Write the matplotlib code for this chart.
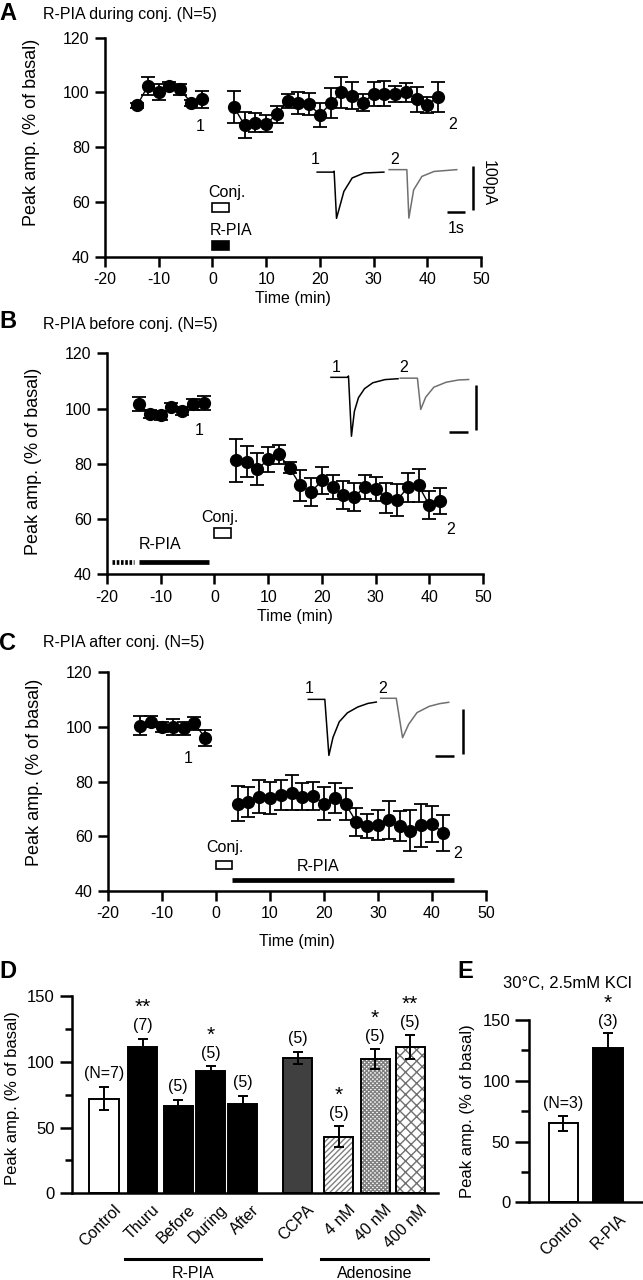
import numpy as np
import matplotlib
matplotlib.use('Agg')
import matplotlib.pyplot as plt
from matplotlib.patches import Rectangle
from matplotlib.transforms import ScaledTranslation, blended_transform_factory

plt.rcParams['font.family'] = ['Liberation Sans', 'DejaVu Sans']
plt.rcParams['axes.unicode_minus'] = False

# ---------------- data ----------------
# time course (min) and peak amplitude (% of basal, mean and s.e.m.)
t_pre = [-14, -12, -10, -8, -6, -4, -2]
t_post = [4, 6, 8, 10, 12, 14, 16, 18, 20, 22, 24, 26, 28, 30, 32, 34, 36, 38, 40, 42]

a_pre = [95.3, 102.5, 100.2, 102.5, 101.2, 96.2, 97.5]
a_pre_err = [1.0, 3.3, 3.0, 1.5, 2.0, 1.0, 3.0]
a_post = [94.7, 88.0, 89.0, 88.6, 92.0, 96.9, 96.0, 95.7, 91.8, 96.0,
          100.0, 98.8, 96.3, 99.4, 99.6, 99.4, 100.0, 97.5, 95.5, 98.4]
a_post_err = [6.0, 4.7, 3.5, 3.0, 3.0, 2.5, 4.0, 4.0, 4.3, 5.5,
              5.5, 5.0, 3.0, 4.5, 4.5, 3.0, 3.5, 4.5, 3.0, 5.5]

b_pre = [101.5, 98.0, 97.5, 100.5, 99.0, 101.5, 102.0]
b_pre_err = [2.5, 1.5, 1.5, 1.5, 1.5, 2.0, 2.5]
b_post = [81.2, 80.7, 78.0, 81.6, 83.4, 78.5, 72.2, 69.7, 74.0, 71.6,
          68.6, 68.0, 71.6, 70.9, 67.6, 66.8, 71.5, 72.2, 65.0, 66.4]
b_post_err = [7.9, 5.6, 5.8, 4.5, 3.4, 2.0, 5.5, 5.0, 4.8, 4.5,
              5.0, 5.0, 4.5, 4.5, 5.5, 5.8, 5.3, 6.0, 5.0, 4.7]

c_pre = [100.5, 102.0, 100.0, 100.0, 99.5, 101.3, 96.0]
c_pre_err = [3.5, 2.0, 2.0, 3.0, 2.5, 2.5, 3.0]
c_post = [72.0, 72.6, 74.5, 74.0, 75.0, 76.0, 74.5, 74.8, 72.0, 74.0,
          71.8, 65.2, 63.8, 64.3, 66.0, 63.8, 62.0, 64.0, 64.6, 61.3]
c_post_err = [6.5, 5.5, 6.0, 6.0, 5.5, 6.5, 5.0, 5.0, 6.0, 5.5,
              6.0, 5.0, 4.5, 5.5, 7.0, 5.5, 7.5, 8.0, 6.5, 6.5]

# protocol windows (min)
conj_win = (0, 3)
rpia_a = (0, 3)
rpia_b = (-14, -1)
rpia_b_pre = (-19, -15)
rpia_c = (3, 44)

# example EPSCs: time (s) and current (pA) relative to trace start / baseline
a1_t = [0, 0.85, 0.92, 1.05, 1.45, 1.9, 2.55, 3.62]
a1_i = [0, 0, 2, -103, -43, -13, -2, 0]
a2_t = [0, 0.96, 1.07, 1.33, 1.78, 2.44, 3.67]
a2_i = [0, 0, -108, -45, -15, -4, 0]
b1_t = [0, 0.9, 0.95, 1.11, 1.27, 1.49, 1.82, 2.27, 2.93, 3.64]
b1_i = [0, 0, 3, -130, -75, -45, -25, -12, -5, -3]
b2_t = [0, 0.93, 1.11, 1.38, 1.82, 2.49, 3.16, 3.71]
b2_i = [0, 0, -69, -42, -20, -9, -4, -3]
c1_t = [0, 0.89, 1.11, 1.33, 1.67, 2.11, 2.67, 3.22, 3.67]
c1_i = [0, 0, -125, -85, -50, -30, -17, -9, -6]
c2_t = [0, 0.84, 1.18, 1.51, 1.96, 2.62, 3.18, 3.67]
c2_i = [0, 0, -88, -58, -32, -18, -12, -9]

# summary bars
d_labels = ['Control', 'Thuru', 'Before', 'During', 'After', 'CCPA', '4 nM', '40 nM', '400 nM']
d_vals = [72, 111, 66, 93, 68, 103, 43, 102, 111]
d_err = [9, 6.5, 5, 3.5, 6, 4.5, 8, 7.5, 9]
d_n = ['(N=7)', '(7)', '(5)', '(5)', '(5)', '(5)', '(5)', '(5)', '(5)']
d_sig = ['', '**', '', '*', '', '', '*', '*', '**']

e_labels = ['Control', 'R-PIA']
e_vals = [65, 127]
e_err = [6, 12]
e_n = ['(N=3)', '(3)']
e_sig = ['', '*']

# ---------------- plotting ----------------
W, H = 643, 1280
fig = plt.figure(figsize=(W / 100, H / 100), dpi=100)

def px_axes(l, t, r, b):
    return fig.add_axes([l / W, 1 - b / H, (r - l) / W, (b - t) / H])

def ftext(x, y, s, **kw):
    fig.text(x / W, 1 - y / H, s, **kw)

SEC = 3.43   # min-axis units per second of trace
PA = 0.164   # %-axis units per pA

def time_panel(ax, pre, pre_e, post, post_e, ylab_y, xlab_y):
    for t, y, e in ((t_pre, pre, pre_e), (t_post, post, post_e)):
        ax.errorbar(t, y, yerr=e, fmt='-o', color='black', lw=1.0, ms=8.5,
                    elinewidth=1.3, capsize=4.7, capthick=1.3, zorder=3)
    ax.set_xlim(-20, 50)
    ax.set_ylim(40, 120)
    ax.set_xticks(range(-20, 51, 10))
    ax.set_yticks(range(40, 121, 20))
    ax.spines[['top', 'right']].set_visible(False)
    ax.spines[['left', 'bottom']].set_linewidth(1.8)
    ax.tick_params(length=7.5, width=1.8, labelsize=11.5, pad=3.5)
    ax.set_ylabel('Peak amp. (% of basal)', fontsize=13)
    ax.yaxis.set_label_coords(-0.172, ylab_y)
    ax.set_xlabel('Time (min)', fontsize=11.5)
    ax.xaxis.set_label_coords(0.5, xlab_y)
    ax.xaxis.label.set_va('center')

def draw_trace(ax, x0, y0, t, i, color):
    ax.plot(x0 + np.asarray(t) * SEC, y0 + np.asarray(i) * PA, color=color, lw=1.1)

def scale_bars(ax, xv, ytop, xh, yh):
    ax.plot([xv, xv], [ytop - 100 * PA, ytop], color='black', lw=1.8, solid_capstyle='butt')
    ax.plot([xh, xh + SEC], [yh, yh], color='black', lw=1.8, solid_capstyle='butt')

def conj_box(ax, y0, h):
    ax.add_patch(Rectangle((conj_win[0], y0), conj_win[1] - conj_win[0], h,
                           facecolor='white', edgecolor='black', lw=1.2, clip_on=False))

fs = 11.5

# ----- A -----
ax = px_axes(105, 37.7, 481, 256.7)
time_panel(ax, a_pre, a_pre_err, a_post, a_post_err, 0.569, -0.189)
ax.text(-2.2, 87.6, '1', ha='center', va='center', fontsize=fs)
ax.text(44.7, 88.3, '2', ha='center', va='center', fontsize=fs)
draw_trace(ax, 19.5, 70.9, a1_t, a1_i, 'black')
draw_trace(ax, 32.9, 71.8, a2_t, a2_i, '#707070')
ax.text(19.1, 75.5, '1', ha='center', va='center', fontsize=fs)
ax.text(34.0, 75.5, '2', ha='center', va='center', fontsize=fs)
scale_bars(ax, 48.5, 73.3, 43.6, 56.2)
ax.text(45.4, 50.3, '1s', ha='center', va='center', fontsize=fs)
ax.text(51.3, 66.9, '100pA', ha='center', va='center', fontsize=fs, rotation=270)
conj_box(ax, 56.2, 3.4)
ax.text(2.7, 63.6, 'Conj.', ha='center', va='center', fontsize=fs)
ax.add_patch(Rectangle((rpia_a[0], 42.3), rpia_a[1] - rpia_a[0], 3.4,
                       facecolor='black', edgecolor='black', lw=1.2))
ax.text(3.4, 49.4, 'R-PIA', ha='center', va='center', fontsize=fs)
ftext(8, 13, 'A', fontsize=17, fontweight='bold', ha='center', va='center')
ftext(43, 15, 'R-PIA during conj. (N=5)', fontsize=11.5, ha='left', va='center')

# ----- B -----
ax = px_axes(107, 353.3, 483, 574.3)
time_panel(ax, b_pre, b_pre_err, b_post, b_post_err, 0.513, -0.193)
ax.text(-2.8, 91.9, '1', ha='center', va='center', fontsize=fs)
ax.text(43.9, 56.1, '2', ha='center', va='center', fontsize=fs)
draw_trace(ax, 21.7, 111.3, b1_t, b1_i, 'black')
draw_trace(ax, 34.6, 111.0, b2_t, b2_i, '#707070')
ax.text(22.6, 114.9, '1', ha='center', va='center', fontsize=fs)
ax.text(35.2, 114.9, '2', ha='center', va='center', fontsize=fs)
scale_bars(ax, 48.7, 108.5, 43.7, 91.6)
conj_box(ax, 53.1, 3.6)
ax.text(1.0, 60.4, 'Conj.', ha='center', va='center', fontsize=fs)
ax.plot(rpia_b, [44.6, 44.6], color='black', lw=3.4, solid_capstyle='butt')
ax.plot(rpia_b_pre, [44.6, 44.6], color='black', lw=3.4, dashes=(0.55, 0.35))
ax.text(-10.2, 50.7, 'R-PIA', ha='center', va='center', fontsize=fs)
ftext(8, 322, 'B', fontsize=17, fontweight='bold', ha='center', va='center')
ftext(43, 325, 'R-PIA before conj. (N=5)', fontsize=11.5, ha='left', va='center')

# ----- C -----
ax = px_axes(108, 672.3, 486, 891)
time_panel(ax, c_pre, c_pre_err, c_post, c_post_err, 0.544, -0.233)
ax.text(-5.1, 88.5, '1', ha='center', va='center', fontsize=fs)
ax.text(44.8, 53.8, '2', ha='center', va='center', fontsize=fs)
draw_trace(ax, 17.1, 110.1, c1_t, c1_i, 'black')
draw_trace(ax, 30.5, 110.5, c2_t, c2_i, '#707070')
ax.text(17.3, 114.1, '1', ha='center', va='center', fontsize=fs)
ax.text(30.9, 114.1, '2', ha='center', va='center', fontsize=fs)
scale_bars(ax, 45.7, 106.6, 40.6, 89.4)
conj_box(ax, 48.0, 3.1)
ax.text(1.7, 56.0, 'Conj.', ha='center', va='center', fontsize=fs)
ax.plot(rpia_c, [44.0, 44.0], color='black', lw=3.4, solid_capstyle='butt')
ax.text(18.9, 49.1, 'R-PIA', ha='center', va='center', fontsize=fs)
ftext(8, 643, 'C', fontsize=17, fontweight='bold', ha='center', va='center')
ftext(43, 643, 'R-PIA after conj. (N=5)', fontsize=11.5, ha='left', va='center')

# ----- bar panel helper -----
def bar_panel(ax, pos, vals, errs, ns, sigs, labels, styles, width, fsz,
              major_len, minor_len, ylab_x, ylab_y, ylab_fs, lab_dx):
    for p, v, st in zip(pos, vals, styles):
        fc, hatch, hc = st
        if hatch:
            ax.bar(p, v, width=width, color=fc, edgecolor=hc, lw=0, hatch=hatch, zorder=2)
            ax.bar(p, v, width=width, color='none', edgecolor='black', lw=1.4, zorder=3)
        else:
            ax.bar(p, v, width=width, color=fc, edgecolor='black', lw=1.4, zorder=2)
    ax.errorbar(pos, vals, yerr=errs, fmt='none', ecolor='black', elinewidth=1.4,
                capsize=3.8, capthick=1.4, zorder=4)
    for p, v, e, n, s in zip(pos, vals, errs, ns, sigs):
        ax.text(p, v + e + 10, n, ha='center', va='center', fontsize=fsz)
        if s:
            ax.text(p, v + e + 16.5, s, ha='center', va='bottom', fontsize=15)
    ax.set_ylim(0, 150)
    ax.set_yticks([0, 50, 100, 150])
    ax.set_yticks([25, 75, 125], minor=True)
    ax.set_xticks(pos, labels, rotation=45, ha='right', rotation_mode='anchor', fontsize=fsz)
    ax.spines[['top', 'right']].set_visible(False)
    ax.spines[['left', 'bottom']].set_linewidth(1.8)
    ax.tick_params(axis='y', which='major', length=major_len, width=1.8, labelsize=fsz + 0.5, pad=3.5)
    ax.tick_params(axis='y', which='minor', length=minor_len, width=1.8)
    ax.tick_params(axis='x', length=0, pad=6.5)
    off = ScaledTranslation(lab_dx / 100, 0, fig.dpi_scale_trans)
    for lab in ax.get_xticklabels():
        lab.set_transform(lab.get_transform() + off)
    ax.set_ylabel('Peak amp. (% of basal)', fontsize=ylab_fs)
    ax.yaxis.set_label_coords(ylab_x, ylab_y)

# ----- D -----
ax = px_axes(71.7, 996, 438.3, 1193.3)
d_pos = np.array([0, 1.115, 2.14, 3.07, 3.99, 5.58, 6.76, 7.81, 8.82])
d_styles = [('white', None, None), ('black', None, None), ('black', None, None),
            ('black', None, None), ('black', None, None), ('#404040', None, None),
            ('white', '//////', '#808080'), ('white', 'xxxxxxxx', '#808080'),
            ('white', 'xxx', '#707070')]
bar_panel(ax, d_pos, d_vals, d_err, d_n, d_sig, d_labels, d_styles, 0.84, 11.5,
          8.6, 5, -0.141, 0.483, 12, 9)
ax.set_xlim(-0.93, 9.63)
bt = blended_transform_factory(ax.transData, ax.transAxes)
for i0, i1, name in ((1, 4, 'R-PIA'), (6, 8, 'Adenosine')):
    x0 = d_pos[i0] - 0.42 - 0.1
    x1 = d_pos[i1] + 0.42 + 0.1
    ax.plot([x0, x1], [-0.335, -0.335], color='black', lw=2.2, transform=bt, clip_on=False)
    ax.text((x0 + x1) / 2, -0.405, name, ha='center', va='center', fontsize=11.5, transform=bt)
ftext(8, 972, 'D', fontsize=17, fontweight='bold', ha='center', va='center')

# ----- E -----
ax = px_axes(529, 1020, 643, 1202.3)
e_pos = np.array([0, 1])
e_styles = [('white', None, None), ('black', None, None)]
bar_panel(ax, e_pos, e_vals, e_err, e_n, e_sig, e_labels, e_styles, 0.67, 11.5,
          10, 6, -0.474, 0.5, 12, 11)
ax.set_xlim(-0.775, 1.79)
ftext(465, 972, 'E', fontsize=17, fontweight='bold', ha='center', va='center')
ftext(503, 983, '30°C, 2.5mM KCl', fontsize=12, ha='left', va='center')

fig.savefig('out.png', dpi=100)
